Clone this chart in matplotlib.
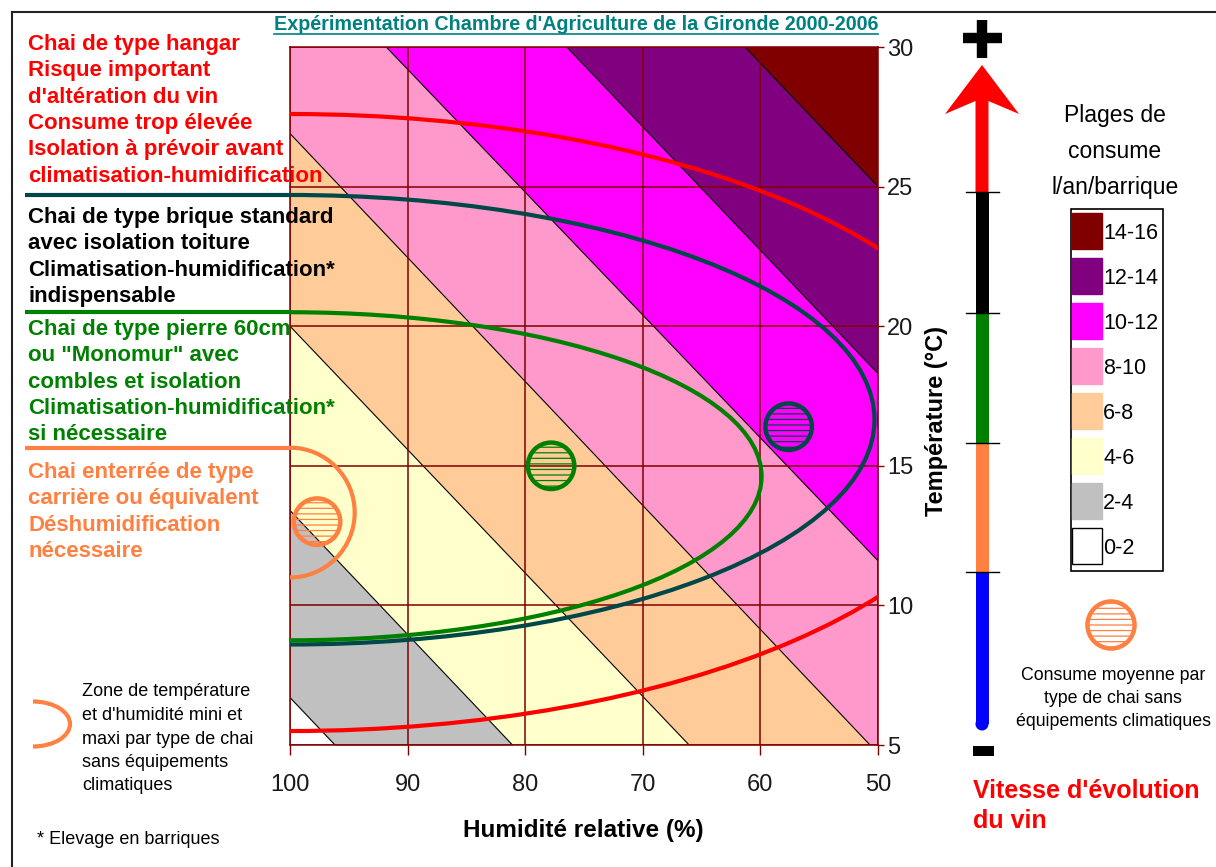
import matplotlib
matplotlib.use("Agg")
import matplotlib.pyplot as plt
from matplotlib.patches import Ellipse, Arc, Rectangle, Polygon, Circle

plt.rcParams["font.family"] = ["Liberation Sans", "DejaVu Sans"]
plt.rcParams["hatch.linewidth"] = 0.9

# Axes du diagramme
humidity_ticks = [100, 90, 80, 70, 60, 50]
temperature_ticks = [5, 10, 15, 20, 25, 30]

# Plages de consume (l/an/barrique), de la plus faible à la plus forte
band_labels = ["0-2", "2-4", "4-6", "6-8", "8-10", "10-12", "12-14", "14-16"]
band_colors = ["#FFFFFF", "#C0C0C0", "#FFFFCC", "#FFCC99", "#FF99CC", "#FF00FF", "#800080", "#800000"]
# Limites entre plages : température lue à 100 % et à 50 % d'humidité
boundary_t_h100 = [6.7, 13.4, 20.0, 26.9, 33.6, 40.4, 47.1]
boundary_t_h50 = [-15.5, -8.8, -2.1, 4.7, 11.6, 18.3, 25.0]

# Zones de température/humidité mini et maxi par type de chai
zone_colors = ["#FF0000", "#004848", "#008000", "#FF8040"]
zone_t_max = [27.6, 24.7, 20.5, 15.65]
zone_t_min = [5.5, 8.6, 8.75, 11.0]
zone_h_min = [39.4, 50.3, 59.9, 94.5]
zone_has_leader = [False, True, True, True]

# Consume moyenne par type de chai sans équipements climatiques
mean_h = [57.6, 77.8, 97.7]
mean_t = [16.4, 15.0, 13.0]
mean_colors = ["#004848", "#008000", "#FF8040"]

# Textes de gauche
text_blocks = [
    ("#FF0000", ["Chai de type hangar", "Risque important", "d'altération du vin",
                 "Consume trop élevée", "Isolation à prévoir avant",
                 "climatisation-humidification"]),
    ("#000000", ["Chai de type brique standard", "avec isolation toiture",
                 "Climatisation-humidification*", "indispensable"]),
    ("#008000", ["Chai de type pierre 60cm", "ou \"Monomur\" avec", "combles et isolation",
                 "Climatisation-humidification*", "si nécessaire"]),
    ("#FF8040", ["Chai enterrée de type", "carrière ou équivalent",
                 "Déshumidification", "nécessaire"]),
]
block_tops = [42, 215, 327, 470]

# Échelle "vitesse d'évolution du vin", du haut vers le bas
speed_colors = ["#FF0000", "#000000", "#008000", "#FF8040", "#0000FF"]

fig = plt.figure(figsize=(12.16, 8.67), dpi=100, facecolor="white")

# ---------- diagramme principal ----------
ax = fig.add_axes([290 / 1216, 1 - 745 / 867, 588 / 1216, 698 / 867])
ax.set_xlim(100, 50)
ax.set_ylim(5, 30)

hx = [humidity_ticks[0], humidity_ticks[-1]]
lows = [(-100, -100)] + list(zip(boundary_t_h100, boundary_t_h50))
highs = list(zip(boundary_t_h100, boundary_t_h50)) + [(100, 100)]
for color, lo, hi in zip(band_colors, lows, highs):
    ax.fill_between(hx, lo, hi, color=color, lw=0, zorder=1)
for t100, t50 in zip(boundary_t_h100, boundary_t_h50):
    ax.plot(hx, [t100, t50], color="black", lw=0.8, zorder=1.2)

ax.set_xticks(humidity_ticks)
ax.set_yticks(temperature_ticks)
ax.grid(True, color="#800000", lw=1.1)
ax.yaxis.tick_right()
ax.tick_params(axis="x", direction="out", length=7, width=1, color="#800000",
               labelsize=17, pad=14, labelcolor="#1a1a1a")
ax.tick_params(axis="y", direction="out", length=4.5, width=1, color="#800000",
               labelsize=17, pad=2, labelcolor="#1a1a1a")
for spine in ax.spines.values():
    spine.set_color("#800000")
    spine.set_linewidth(1.1)

for color, tmax, tmin, hmin, leader in zip(zone_colors, zone_t_max, zone_t_min, zone_h_min, zone_has_leader):
    ax.add_patch(Ellipse((100, (tmax + tmin) / 2), width=2 * (100 - hmin), height=tmax - tmin,
                         fill=False, edgecolor=color, lw=3, zorder=4))
    if leader:
        ax.plot([122.5, 100], [tmax, tmax], color=color, lw=3, clip_on=False, zorder=4,
                solid_capstyle="butt")

for h, t, color in zip(mean_h, mean_t, mean_colors):
    ax.scatter([h], [t], s=1120, marker="o", facecolors="none", edgecolors=color,
               linewidths=3.2, hatch="---", zorder=5)

# ---------- calque d'annotations (coordonnées en pixels) ----------
deco = fig.add_axes([0, 0, 1, 1], zorder=3)
deco.set_xlim(0, 1216)
deco.set_ylim(867, 0)
deco.axis("off")

# cadre
deco.plot([12, 1216], [12, 12], color="#222222", lw=1.5)
deco.plot([12, 12], [12, 867], color="#222222", lw=1.5)

title = deco.text(576, 25, "Expérimentation Chambre d'Agriculture de la Gironde 2000-2006",
                  color="#008080", fontsize=14.2, fontweight="bold", ha="center", va="center")

for (color, lines), top in zip(text_blocks, block_tops):
    for i, line in enumerate(lines):
        deco.text(28, top + i * 26.3, line, color=color, fontsize=16, fontweight="bold",
                  ha="left", va="center_baseline")

# légende des zones
deco.add_patch(Arc((33, 724), 74, 45, theta1=-90, theta2=90, color="#FF8040", lw=3))
zone_note = ["Zone de température", "et d'humidité mini et", "maxi par type de chai",
             "sans équipements", "climatiques"]
for i, line in enumerate(zone_note):
    deco.text(82, 690 + i * 23.5, line, fontsize=13, ha="left", va="center_baseline")
deco.text(37, 837, "* Elevage en barriques", fontsize=13, ha="left", va="center_baseline")

# libellés d'axes
deco.text(583, 830, "Humidité relative (%)", fontsize=17.5, fontweight="bold",
          ha="center", va="center")
deco.text(937, 421, "Température (°C)", fontsize=17, fontweight="bold", rotation=90,
          ha="center", va="center")

# échelle de vitesse d'évolution
shaft_left, shaft_right = 975.5, 988.5
segment_edges = [192, 313, 443, 572, 724]
deco.add_patch(Polygon([(982, 65), (1019, 114), (shaft_right, 101), (shaft_right, 192),
                        (shaft_left, 192), (shaft_left, 101), (945, 114)],
                       closed=True, fc=speed_colors[0], ec="none"))
for color, y0, y1 in zip(speed_colors[1:], segment_edges[:-1], segment_edges[1:]):
    deco.add_patch(Rectangle((shaft_left, y0), shaft_right - shaft_left, y1 - y0, fc=color, ec="none"))
deco.add_patch(Circle((982, 724), 6.5, fc=speed_colors[-1], ec="none"))
for y in segment_edges[:-1]:
    deco.plot([966, 999], [y, y], color="black", lw=1)
deco.plot([963, 1002], [38, 38], color="black", lw=7.5, solid_capstyle="butt")
deco.plot([982, 982], [20, 58], color="black", lw=7.5, solid_capstyle="butt")
deco.add_patch(Rectangle((973, 746), 21, 10, fc="black", ec="none"))
deco.text(973, 788, "Vitesse d'évolution", color="#FF0000", fontsize=18, fontweight="bold",
          ha="left", va="center_baseline")
deco.text(973, 818, "du vin", color="#FF0000", fontsize=18, fontweight="bold",
          ha="left", va="center_baseline")

# légende des plages de consume
for i, line in enumerate(["Plages de", "consume", "l/an/barrique"]):
    deco.text(1115, 113 + i * 36, line, fontsize=16.5, ha="center", va="center_baseline")
deco.add_patch(Rectangle((1071, 209), 92, 362, fill=False, ec="black", lw=1.2))
for i, (label, color) in enumerate(zip(band_labels[::-1], band_colors[::-1])):
    y = 213 + i * 45
    edge = "black" if color == "#FFFFFF" else color
    deco.add_patch(Rectangle((1072, y), 30, 36, fc=color, ec=edge, lw=1))
    deco.text(1103, y + 18, label, fontsize=15.5, ha="left", va="center_baseline")

deco.scatter([1111], [625], s=1150, marker="o", facecolors="none", edgecolors="#FF8040",
             linewidths=3.2, hatch="---")
for i, line in enumerate(["Consume moyenne par", "type de chai sans", "équipements climatiques"]):
    deco.text(1113, 673 + i * 23.5, line, fontsize=12.8, ha="center", va="center_baseline")

# soulignement du titre
fig.canvas.draw()
bb = title.get_window_extent()
(x0, _), (x1, _) = deco.transData.inverted().transform(bb.get_points())
deco.plot([x0, x1], [34, 34], color="#008080", lw=1.2)

fig.savefig("out.png", dpi=100, facecolor="white")
